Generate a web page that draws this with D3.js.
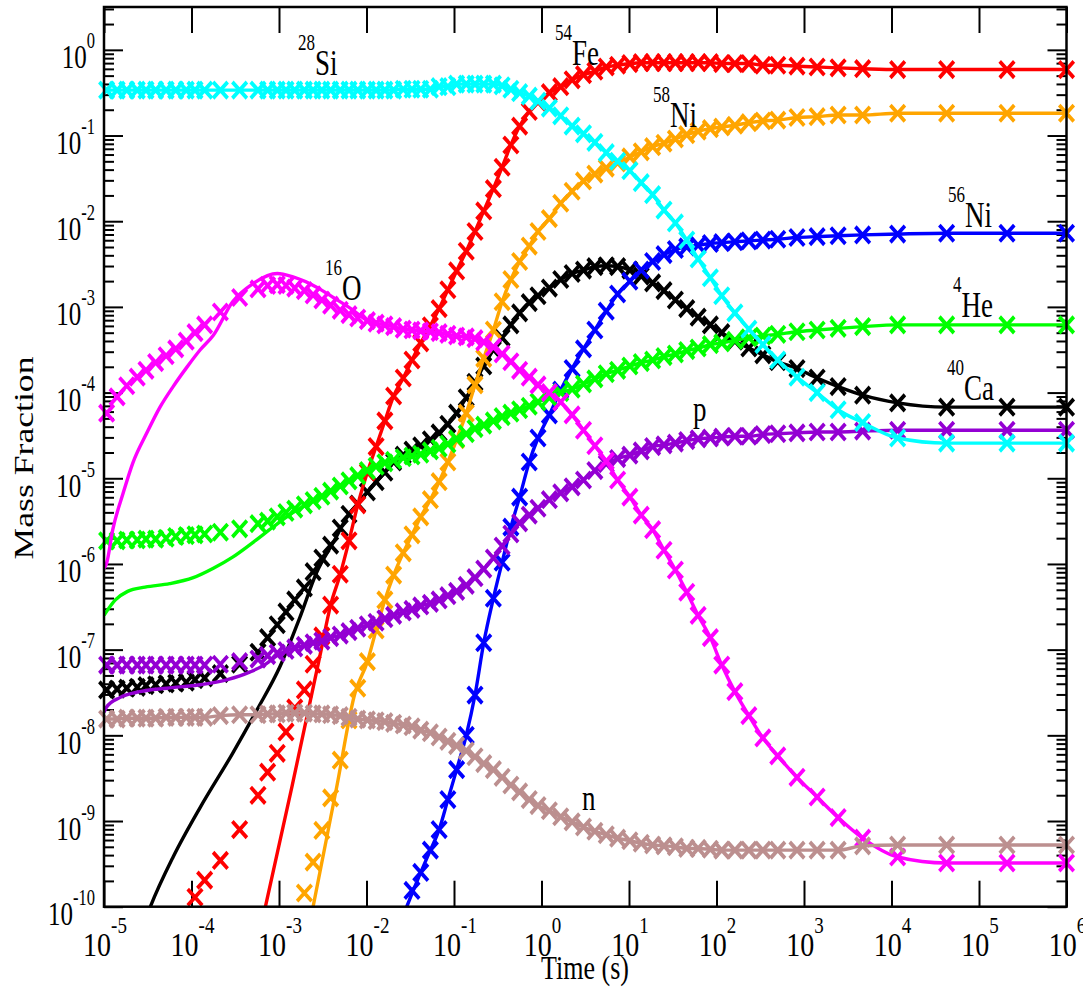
<!DOCTYPE html>
<html>
<head>
<meta charset="utf-8">
<script src="https://cdn.jsdelivr.net/npm/d3@7"></script>
<style>
  html, body { margin: 0; padding: 0; background: #fff; }
  svg { display: block; }
</style>
</head>
<body>
<svg id="chart" width="1083" height="1004"></svg>
<script>
// ---------------------------------------------------------------
// Mass fractions of a nuclear network run, log10 values.
// markTimes: output times of the symbol run, log10(t / s).
// ---------------------------------------------------------------
const markTimes = [
  -4.97,-4.85,-4.74,-4.62,-4.52,-4.41,-4.29,-4.18,-4.06,-3.96,-3.85,-3.67,-3.45,-3.24,
  -3.13,-3.02,-2.92,-2.82,-2.71,-2.61,-2.51,-2.41,-2.30,-2.20,-2.10,-1.99,-1.89,-1.79,-1.69,-1.58,
  -1.48,-1.38,-1.27,-1.17,-1.07,-0.97,-0.86,-0.76,-0.66,-0.55,-0.45,-0.35,-0.25,-0.14,-0.04,
  0.09,0.22,0.35,0.48,0.61,0.74,0.87,1.01,1.14,1.27,1.40,1.53,1.66,1.79,1.93,2.06,
  2.21,2.37,2.53,2.70,2.92,3.15,3.39,3.67,4.07,4.63,5.32,6.00
];

// symbol run, log10 mass fraction at markTimes (null = below 1e-10)
const si28Marks = [
  -0.47,-0.47,-0.47,-0.47,-0.47,-0.47,-0.47,-0.47,-0.47,-0.47,
  -0.47,-0.47,-0.47,-0.47,-0.47,-0.47,-0.47,-0.47,-0.47,-0.47,
  -0.47,-0.47,-0.47,-0.47,-0.47,-0.47,-0.47,-0.47,-0.47,-0.46,
  -0.46,-0.46,-0.46,-0.43,-0.43,-0.40,-0.40,-0.40,-0.40,-0.40,
  -0.42,-0.46,-0.50,-0.54,-0.60,-0.68,-0.77,-0.89,-0.98,-1.08,
  -1.20,-1.30,-1.41,-1.55,-1.69,-1.87,-2.02,-2.22,-2.44,-2.66,
  -2.87,-3.07,-3.26,-3.44,-3.62,-3.82,-4.00,-4.20,-4.35,-4.53,
  -4.59,-4.59,-4.59
];
const fe54Marks = [
  null,null,null,null,null,null,null,null,null,-9.89,
  -9.69,-9.46,-9.10,-8.70,-8.43,-8.21,-7.96,-7.68,-7.47,-7.17,
  -6.84,-6.48,-6.12,-5.73,-5.31,-4.93,-4.63,-4.33,-4.04,-3.83,
  -3.62,-3.42,-3.22,-3.02,-2.80,-2.58,-2.35,-2.12,-1.88,-1.62,
  -1.37,-1.11,-0.89,-0.72,-0.61,-0.50,-0.43,-0.35,-0.29,-0.25,
  -0.20,-0.18,-0.16,-0.15,-0.15,-0.15,-0.15,-0.15,-0.15,-0.15,
  -0.16,-0.16,-0.16,-0.18,-0.18,-0.19,-0.20,-0.21,-0.22,-0.23,
  -0.23,-0.23,-0.23
];
const ni58Marks = [
  null,null,null,null,null,null,null,null,null,null,
  null,null,null,null,null,null,null,null,-9.84,-9.48,
  -9.11,-8.73,-8.29,-7.82,-7.45,-7.14,-6.77,-6.42,-6.13,-5.87,
  -5.66,-5.45,-5.25,-5.04,-4.81,-4.55,-4.24,-3.91,-3.60,-3.27,
  -2.94,-2.68,-2.47,-2.29,-2.12,-1.97,-1.79,-1.65,-1.53,-1.45,
  -1.38,-1.32,-1.25,-1.19,-1.13,-1.09,-1.04,-0.99,-0.95,-0.92,
  -0.90,-0.88,-0.85,-0.83,-0.82,-0.79,-0.78,-0.76,-0.76,-0.74,
  -0.74,-0.74,-0.74
];
const ni56Marks = [
  null,null,null,null,null,null,null,null,null,null,
  null,null,null,null,null,null,null,null,null,null,
  null,null,null,null,null,null,null,null,null,null,
  -9.81,-9.60,-9.34,-9.10,-8.75,-8.40,-8.00,-7.53,-6.92,-6.40,
  -5.98,-5.57,-5.22,-4.81,-4.53,-4.26,-3.97,-3.72,-3.49,-3.27,
  -3.05,-2.85,-2.70,-2.57,-2.47,-2.39,-2.33,-2.30,-2.28,-2.26,
  -2.25,-2.24,-2.23,-2.22,-2.21,-2.19,-2.18,-2.17,-2.16,-2.15,
  -2.14,-2.14,-2.14
];
const ca40Marks = [
  -7.47,-7.46,-7.45,-7.44,-7.42,-7.41,-7.40,-7.39,-7.38,-7.35,
  -7.33,-7.28,-7.17,-7.03,-6.86,-6.71,-6.56,-6.42,-6.28,-6.09,
  -5.93,-5.78,-5.58,-5.42,-5.30,-5.16,-5.04,-4.93,-4.81,-4.73,
  -4.67,-4.62,-4.55,-4.47,-4.37,-4.24,-4.06,-3.88,-3.69,-3.50,
  -3.36,-3.21,-3.07,-2.95,-2.87,-2.78,-2.68,-2.61,-2.57,-2.53,
  -2.52,-2.53,-2.57,-2.64,-2.72,-2.81,-2.92,-3.02,-3.12,-3.21,
  -3.30,-3.40,-3.48,-3.56,-3.64,-3.72,-3.83,-3.93,-4.03,-4.12,
  -4.17,-4.17,-4.17
];
const he4Marks = [
  -5.73,-5.73,-5.72,-5.72,-5.71,-5.71,-5.70,-5.68,-5.67,-5.66,
  -5.65,-5.63,-5.59,-5.53,-5.50,-5.45,-5.40,-5.36,-5.31,-5.26,
  -5.21,-5.15,-5.09,-5.03,-4.97,-4.91,-4.86,-4.82,-4.79,-4.76,
  -4.74,-4.72,-4.68,-4.65,-4.60,-4.54,-4.48,-4.42,-4.38,-4.33,
  -4.28,-4.24,-4.20,-4.16,-4.11,-4.06,-4.00,-3.96,-3.90,-3.84,
  -3.78,-3.74,-3.69,-3.65,-3.62,-3.58,-3.55,-3.51,-3.48,-3.44,
  -3.42,-3.39,-3.36,-3.34,-3.32,-3.29,-3.27,-3.25,-3.23,-3.21,
  -3.21,-3.21,-3.21
];
const o16Marks = [
  -4.24,-4.05,-3.92,-3.82,-3.74,-3.65,-3.57,-3.49,-3.40,-3.30,
  -3.21,-3.06,-2.89,-2.79,-2.75,-2.74,-2.75,-2.78,-2.81,-2.86,
  -2.92,-2.98,-3.04,-3.09,-3.13,-3.16,-3.19,-3.21,-3.23,-3.26,
  -3.27,-3.28,-3.29,-3.30,-3.32,-3.34,-3.35,-3.37,-3.41,-3.47,
  -3.55,-3.64,-3.74,-3.82,-3.91,-4.00,-4.11,-4.26,-4.44,-4.62,
  -4.80,-5.02,-5.22,-5.43,-5.60,-5.84,-6.07,-6.33,-6.60,-6.86,
  -7.18,-7.49,-7.77,-8.03,-8.24,-8.49,-8.72,-8.96,-9.20,-9.42,
  -9.49,-9.49,-9.49
];
const pMarks = [
  -7.18,-7.18,-7.18,-7.18,-7.18,-7.18,-7.18,-7.18,-7.18,-7.18,
  -7.18,-7.17,-7.14,-7.11,-7.07,-7.04,-7.01,-6.98,-6.95,-6.92,
  -6.90,-6.86,-6.83,-6.79,-6.75,-6.71,-6.68,-6.64,-6.60,-6.56,
  -6.53,-6.49,-6.46,-6.42,-6.37,-6.32,-6.25,-6.16,-6.06,-5.93,
  -5.79,-5.65,-5.52,-5.43,-5.35,-5.25,-5.17,-5.10,-5.02,-4.91,
  -4.83,-4.77,-4.73,-4.68,-4.63,-4.61,-4.59,-4.56,-4.54,-4.53,
  -4.52,-4.51,-4.51,-4.49,-4.48,-4.47,-4.46,-4.46,-4.45,-4.44,
  -4.44,-4.44,-4.44
];
const nMarks = [
  -7.81,-7.81,-7.80,-7.80,-7.80,-7.80,-7.79,-7.79,-7.79,-7.79,
  -7.79,-7.77,-7.76,-7.76,-7.75,-7.75,-7.74,-7.74,-7.74,-7.75,
  -7.75,-7.76,-7.77,-7.79,-7.81,-7.82,-7.83,-7.84,-7.86,-7.88,
  -7.90,-7.94,-7.97,-8.02,-8.07,-8.12,-8.18,-8.25,-8.33,-8.40,
  -8.49,-8.58,-8.66,-8.75,-8.82,-8.88,-8.95,-9.01,-9.07,-9.12,
  -9.16,-9.20,-9.23,-9.26,-9.28,-9.29,-9.30,-9.32,-9.32,-9.33,
  -9.34,-9.34,-9.34,-9.34,-9.34,-9.34,-9.34,-9.34,-9.29,-9.28,
  -9.28,-9.28,-9.28
];

// line run: early-time points [log10 t, log10 X] where it departs from the symbol run;
// afterwards the two runs coincide
const fe54Line = [[-3.19,-10.16],[-2.85,-8.59],[-2.53,-7.06]];
const ni58Line = [[-2.62,-10.05],[-2.34,-8.60],[-2.13,-7.50]];
const ni56Line = [[-1.54,-10.00]];
const ca40Line = [[-4.53,-10.16],[-4.47,-10.00],[-4.21,-9.42],[-3.90,-8.84],[-3.53,-8.21],
                  [-3.25,-7.70],[-2.99,-7.20],[-2.76,-6.62],[-2.57,-6.10],[-2.38,-5.75]];
const he4Line  = [[-5.00,-6.60],[-4.87,-6.42],[-4.73,-6.32],[-4.53,-6.27],[-4.25,-6.23],[-3.98,-6.16],
                  [-3.75,-6.05],[-3.53,-5.92],[-3.30,-5.75],[-3.07,-5.57],[-2.87,-5.42],[-2.65,-5.29]];
const o16Line  = [[-5.00,-6.05],[-4.97,-5.99],[-4.90,-5.60],[-4.78,-5.17],[-4.67,-4.82],[-4.51,-4.47],
                  [-4.36,-4.17],[-4.21,-3.93],[-4.05,-3.70],[-3.90,-3.50],[-3.75,-3.33],[-3.53,-2.94],
                  [-3.30,-2.73],[-3.02,-2.61],[-2.84,-2.65],[-2.57,-2.77],[-2.38,-2.89],[-2.15,-3.04]];
const pLine    = [[-5.00,-7.73],[-4.97,-7.67],[-4.82,-7.56],[-4.59,-7.49],[-4.28,-7.45],[-3.90,-7.41],
                  [-3.59,-7.35],[-3.33,-7.26],[-3.14,-7.16],[-3.05,-7.09]];

// species, in drawing order
const species = [
  { id: "ca40", sup: "40", sym: "Ca", color: "#000000", marks: ca40Marks, early: ca40Line },
  { id: "fe54", sup: "54", sym: "Fe", color: "#ff0000", marks: fe54Marks, early: fe54Line },
  { id: "ni58", sup: "58", sym: "Ni", color: "#ffa500", marks: ni58Marks, early: ni58Line },
  { id: "ni56", sup: "56", sym: "Ni", color: "#0000ff", marks: ni56Marks, early: ni56Line },
  { id: "he4",  sup: "4",  sym: "He", color: "#00ff00", marks: he4Marks,  early: he4Line },
  { id: "p",    sup: "",   sym: "p",  color: "#9400d3", marks: pMarks,    early: pLine },
  { id: "o16",  sup: "16", sym: "O",  color: "#ff00ff", marks: o16Marks,  early: o16Line },
  { id: "si28", sup: "28", sym: "Si", color: "#00ffff", marks: si28Marks, early: [] },
  { id: "n",    sup: "",   sym: "n",  color: "#bc8f8f", marks: nMarks,    early: [] }
];

// label anchor (left end, baseline) for each species name
const labelPos = {
  si28: [298, 75], fe54: [555, 65], ni58: [653, 127], ni56: [948, 227],
  he4: [953, 317], ca40: [947, 400], o16: [325, 300], p: [693, 421], n: [582, 810]
};

const xDecades = d3.range(-5, 7);     // 1e-5 ... 1e6 s
const yDecades = d3.range(-10, 1);    // 1e-10 ... 1e0
const yTop = Math.pow(10, 0.5);

// ---------------------------------------------------------------
const FONT = "'Liberation Serif','Times New Roman',Times,serif";
const svg = d3.select("#chart");
svg.append("rect").attr("width", 1083).attr("height", 1004).attr("fill", "#fff");

const plot = { left: 104, right: 1066.5, top: 7, bottom: 906.7 };

const x = d3.scaleLog().domain([1e-5, 1e6]).range([plot.left, plot.right]);
const y = d3.scaleLog().domain([1e-10, yTop]).range([plot.bottom, plot.top]);
const px = lt => x(Math.pow(10, lt));
const py = lv => y(Math.pow(10, lv));

svg.append("defs").append("clipPath").attr("id", "plotClip")
  .append("rect")
  .attr("x", plot.left).attr("y", plot.top)
  .attr("width", plot.right - plot.left).attr("height", plot.bottom - plot.top);

// text with superscripts, stretched vertically like the rest of the figure
function richText(parent, tx, ty, parts, anchor, sy) {
  const t = parent.append("text")
    .attr("transform", `translate(${tx},${ty}) scale(1,${sy})`)
    .attr("text-anchor", anchor)
    .attr("font-family", FONT)
    .attr("fill", "#000");
  let prevRise = 0;
  parts.forEach(p => {
    const rise = p.rise || 0;
    t.append("tspan")
      .attr("font-size", p.size)
      .attr("dy", prevRise - rise)
      .text(p.text);
    prevRise = rise;
  });
  return t;
}

// ---------------- axes ----------------
const axes = svg.append("g").attr("class", "axes");
const xMajor = xDecades.map(k => Math.pow(10, k));
const yMajor = yDecades.map(k => Math.pow(10, k));
const yMinor = [];
yDecades.forEach(k => {
  for (let m = 2; m <= 9; m++) {
    const v = m * Math.pow(10, k);
    if (v <= yTop) yMinor.push(v);
  }
});

function styleTicks(g) {
  g.select(".domain").remove();
  g.selectAll(".tick line").attr("stroke", "#000").attr("stroke-width", 2);
}

axes.append("g").attr("transform", `translate(0,${plot.bottom})`)
  .call(d3.axisBottom(x).tickValues(xMajor).tickSize(-26).tickSizeOuter(0).tickFormat(""))
  .call(styleTicks);
axes.append("g").attr("transform", `translate(0,${plot.top})`)
  .call(d3.axisTop(x).tickValues(xMajor).tickSize(-26).tickSizeOuter(0).tickFormat(""))
  .call(styleTicks);
axes.append("g").attr("transform", `translate(${plot.left},0)`)
  .call(d3.axisLeft(y).tickValues(yMajor).tickSize(-19).tickSizeOuter(0).tickFormat(""))
  .call(styleTicks);
axes.append("g").attr("transform", `translate(${plot.left},0)`)
  .call(d3.axisLeft(y).tickValues(yMinor).tickSize(-10).tickSizeOuter(0).tickFormat(""))
  .call(styleTicks);
axes.append("g").attr("transform", `translate(${plot.right},0)`)
  .call(d3.axisRight(y).tickValues(yMajor).tickSize(-19).tickSizeOuter(0).tickFormat(""))
  .call(styleTicks);
axes.append("g").attr("transform", `translate(${plot.right},0)`)
  .call(d3.axisRight(y).tickValues(yMinor).tickSize(-10).tickSizeOuter(0).tickFormat(""))
  .call(styleTicks);

// tick labels 10^k
xDecades.forEach(k => {
  richText(svg, x(Math.pow(10, k)) + 1, 956,
    [{ text: "10", size: 28 }, { text: String(k), size: 19, rise: 19 }], "middle", 1.22);
});
yDecades.forEach(k => {
  richText(svg, 95, y(Math.pow(10, k)) + 18.5,
    [{ text: "10", size: 25 }, { text: String(k), size: 16.5, rise: 14.5 }], "end", 1.38);
});

// axis titles
richText(svg, 585, 979, [{ text: "Time (s)", size: 26 }], "middle", 1.3);
svg.append("text")
  .attr("transform", "translate(33,458) scale(1,1.32) rotate(-90)")
  .attr("text-anchor", "middle")
  .attr("font-family", FONT)
  .attr("font-size", 27)
  .text("Mass Fraction");

// ---------------- curves & symbols ----------------
const lineGen = d3.line()
  .x(d => px(d[0]))
  .y(d => py(d[1]))
  .curve(d3.curveMonotoneX);

const xSymbol = d3.symbol().type(d3.symbolTimes).size(140);
const yMin = -10.05;

const layer = svg.append("g");
species.forEach(s => {
  const marks = markTimes.map((t, i) => [t, s.marks[i]]).filter(d => d[1] !== null);
  const lastEarly = s.early.length ? s.early[s.early.length - 1][0] : -Infinity;
  const lineData = s.early.concat(marks.filter(d => d[0] > lastEarly + 0.1));

  const g = layer.append("g").attr("class", "sp-" + s.id);
  g.append("path")
    .datum(lineData)
    .attr("clip-path", "url(#plotClip)")
    .attr("d", lineGen)
    .attr("fill", "none")
    .attr("stroke", s.color)
    .attr("stroke-width", 3.4)
    .attr("stroke-linejoin", "round");

  g.selectAll("path.mk")
    .data(marks.filter(d => d[1] >= yMin))
    .join("path")
    .attr("class", "mk")
    .attr("d", xSymbol)
    .attr("transform", d => `translate(${px(d[0])},${py(d[1])}) scale(1,1.12)`)
    .attr("fill", "none")
    .attr("stroke", s.color)
    .attr("stroke-width", 3.6);
});

// plot frame
svg.append("rect")
  .attr("x", plot.left).attr("y", plot.top)
  .attr("width", plot.right - plot.left).attr("height", plot.bottom - plot.top)
  .attr("fill", "none").attr("stroke", "#000").attr("stroke-width", 2.5);

// species names
species.forEach(s => {
  const [lx, ly] = labelPos[s.id];
  const parts = [];
  if (s.sup) parts.push({ text: s.sup, size: 17, rise: 19 });
  parts.push({ text: s.sym, size: 27 });
  richText(svg, lx, ly, parts, "start", 1.3);
});
</script>
</body>
</html>
